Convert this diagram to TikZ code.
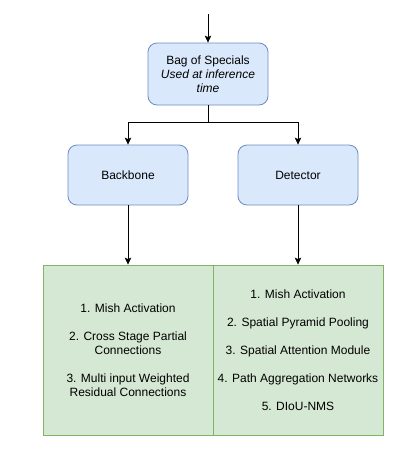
\documentclass[tikz,border=0pt]{standalone}
\usepackage{fontspec}
\setmainfont{Liberation Sans}
\usetikzlibrary{arrows.meta}
\definecolor{bluefill}{HTML}{DAE8FC}
\definecolor{bluedraw}{HTML}{6C8EBF}
\definecolor{greenfill}{HTML}{D5E8D4}
\definecolor{greendraw}{HTML}{82B366}
\begin{document}
\begin{tikzpicture}[x=1pt,y=-1pt,
  bluebox/.style={draw=bluedraw,fill=bluefill,rounded corners=9pt,line width=0.8pt,
    minimum width=120pt,minimum height=60pt,inner sep=0pt,align=center,
    font=\fontsize{12}{14}\selectfont},
  greenbox/.style={draw=greendraw,fill=greenfill,line width=0.8pt,
    minimum width=170pt,minimum height=170pt,inner sep=0pt,align=center},
  conn/.style={line width=0.8pt,-{Stealth[length=7pt,width=6.5pt,inset=1.5pt]}},
  plain/.style={line width=0.8pt}]
\useasboundingbox (0,0) rectangle (413,453);
\coordinate (top) at (208,14);
\node[bluebox,minimum height=62pt] (bag) at (208,74) {Bag of Specials\\\textit{Used at inference}\\\textit{time}};
\node[bluebox] (backbone) at (128,175) {Backbone};
\node[bluebox] (detector) at (298,175) {Detector};
\node[greenbox] (gl) at (128,350) {};
\node[greenbox] (gr) at (298,350) {};
\node[align=center,font=\fontsize{12}{14}\selectfont] (tl) at (128,350.5) {1. Mish Activation\\[14pt]2. Cross Stage Partial\\Connections\\[14pt]3. Multi input Weighted\\Residual Connections};
\node[align=center,font=\fontsize{12}{28}\selectfont] (tr) at (298,350) {1. Mish Activation\\2. Spatial Pyramid Pooling\\3. Spatial Attention Module\\4. Path Aggregation Networks\\5. DIoU-NMS};
\coordinate (split) at (208,122);
\draw[conn] (top) -- (bag.north);
\draw[plain] (bag.south) -- (split);
\draw[conn] (split) -| (backbone.north);
\draw[conn] (split) -| (detector.north);
\draw[conn] (backbone.south) -- (gl.north);
\draw[conn] (detector.south) -- (gr.north);
\end{tikzpicture}
\end{document}
